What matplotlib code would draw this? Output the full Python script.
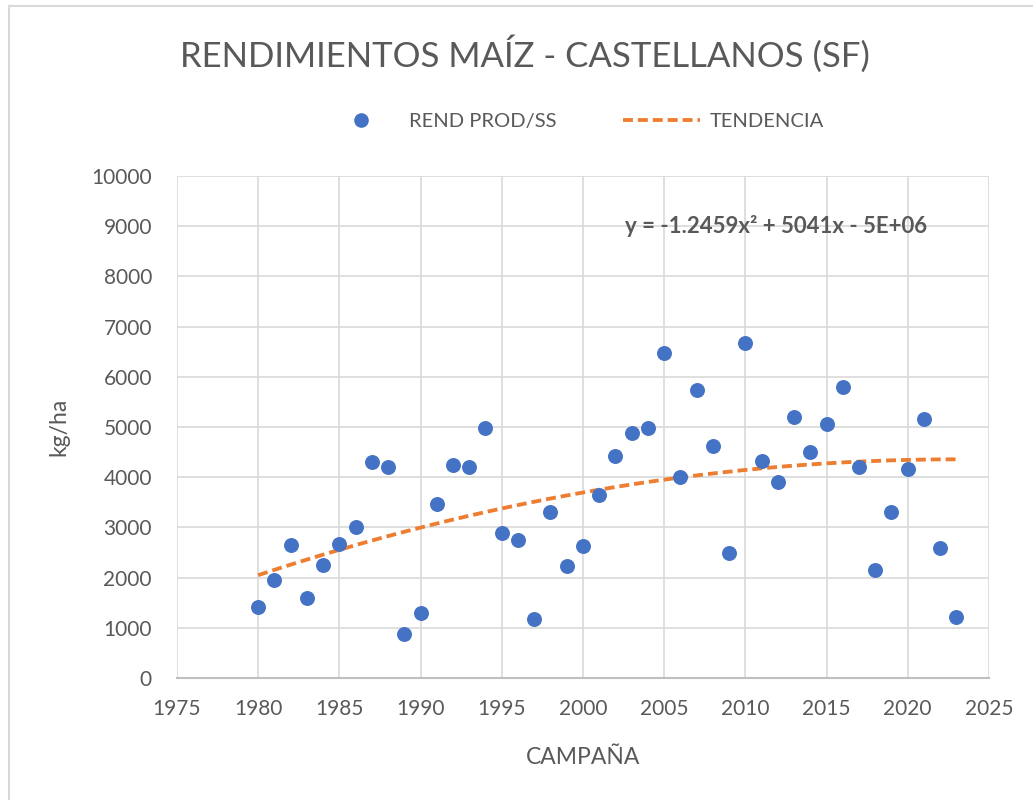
import numpy as np
import matplotlib
matplotlib.use("Agg")
import matplotlib.pyplot as plt
from matplotlib.lines import Line2D

plt.rcParams['font.family'] = ['Lato', 'DejaVu Sans']

campana = [1980, 1981, 1982, 1983, 1984, 1985, 1986, 1987, 1988, 1989,
           1990, 1991, 1992, 1993, 1994, 1995, 1996, 1997, 1998, 1999,
           2000, 2001, 2002, 2003, 2004, 2005, 2006, 2007, 2008, 2009,
           2010, 2011, 2012, 2013, 2014, 2015, 2016, 2017, 2018, 2019,
           2020, 2021, 2022, 2023]
rend = [1420, 1950, 2650, 1600, 2250, 2670, 3000, 4300, 4200, 870,
        1300, 3470, 4250, 4200, 4980, 2880, 2750, 1170, 3300, 2240,
        2620, 3650, 4430, 4880, 4980, 6470, 4000, 5740, 4630, 2500,
        6680, 4330, 3910, 5190, 4500, 5060, 5790, 4210, 2150, 3310,
        4160, 5150, 2580, 1210]

# coeficientes de la ecuacion del grafico (el termino independiente
# viene redondeado a 5E+06, se ajusta leyendo la curva)
tend_a = -1.2459
tend_b = 5041
tend_c = -5094705

gris = '#595959'
azul = '#4472C4'
naranja = '#ED7D31'
guiones = (0, (2.6, 1.3))

fig = plt.figure(figsize=(10.33, 8), dpi=100)
ax = fig.add_axes([0.1713, 0.1525, 0.786, 0.6275])

xt = np.linspace(min(campana), max(campana), 200)
yt = tend_a * xt**2 + tend_b * xt + tend_c

ax.scatter(campana, rend, s=95, color=azul, zorder=3)
ax.plot(xt, yt, color=naranja, lw=2.75, ls=guiones, zorder=2)

ax.set_xlim(1975, 2025)
ax.set_ylim(0, 10000)
ax.set_xticks(range(1975, 2026, 5))
ax.set_yticks(range(0, 10001, 1000))
ax.grid(True, color='#D9D9D9', lw=1.2)
ax.set_axisbelow(True)
for s in ['top', 'right', 'left']:
    ax.spines[s].set_visible(False)
ax.spines['bottom'].set_color('#BFBFBF')
ax.spines['bottom'].set_linewidth(1.5)
ax.tick_params(length=0, labelsize=15, labelcolor=gris)
ax.tick_params(axis='y', pad=18)
ax.tick_params(axis='x', pad=15)

ax.set_xlabel('CAMPAÑA', fontsize=16.5, color=gris, labelpad=20)
ax.set_ylabel('kg/ha', fontsize=16.5, color=gris, labelpad=16)

ax.text(2011.9, 9000, 'y = -1.2459x² + 5041x - 5E+06', fontsize=16,
        fontweight='bold', color=gris, ha='center', va='center')

fig.text(0.508, 0.933, 'RENDIMIENTOS MAÍZ - CASTELLANOS (SF)', fontsize=25,
         color=gris, ha='center', va='center')

handles = [Line2D([], [], ls='', marker='o', ms=9.5, color=azul),
           Line2D([], [], color=naranja, lw=2.75, ls=guiones)]
fig.legend(handles, ['REND PROD/SS', 'TENDENCIA'], loc='center',
           bbox_to_anchor=(0.555, 0.848), ncol=2, frameon=False,
           fontsize=14.5, labelcolor=gris, handlelength=3.8, handletextpad=0.5,
           columnspacing=3.3)

# borde del area del grafico
fig.add_artist(Line2D([8.5 / 1033, 8.5 / 1033], [0, 1 - 6 / 800],
                      color='#D9D9D9', lw=1.5))
fig.add_artist(Line2D([8.5 / 1033, 1], [1 - 6 / 800, 1 - 6 / 800],
                      color='#D9D9D9', lw=1.5))

fig.savefig('out.png', dpi=100)
